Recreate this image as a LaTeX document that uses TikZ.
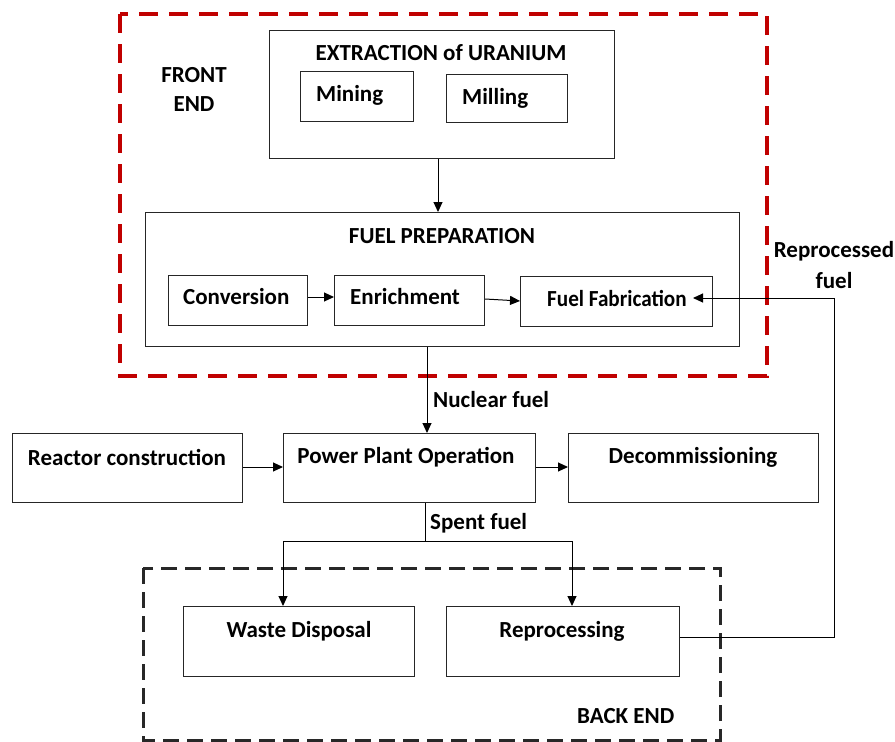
\documentclass[tikz,border=0pt]{standalone}
\usepackage{fontspec}
\setmainfont{Carlito}
\usetikzlibrary{arrows.meta}
\definecolor{frontred}{RGB}{192,0,0}
\definecolor{backgray}{RGB}{40,40,40}
\tikzset{
  box/.style={draw=black!85, line width=1.2pt, inner sep=0pt},
  txt/.style={font=\fontsize{23}{26}\selectfont\bfseries, inner sep=0pt},
  arr/.style={draw=black, line width=1pt, -{Triangle[length=10pt,width=9pt]}},
  ln/.style={draw=black, line width=1pt},
  redzone/.style={draw=frontred, line width=4pt, dash pattern=on 19pt off 11pt},
  backzone/.style={draw=backgray, line width=3pt, dash pattern=on 16pt off 8pt},
}
\newcommand{\bx}[5]{\node[box, anchor=north west, minimum width=#4pt, minimum height=#5pt] (#1) at (#2,#3) {};}
\begin{document}
\begin{tikzpicture}[x=1pt,y=-1pt]
\useasboundingbox (0,0) rectangle (895,742);
% zones
\path[redzone] (120,14) rectangle (767,376);
\path[backzone] (143,568) rectangle (720,740);
% boxes
\bx{extr}{269}{30}{345}{128}
\bx{mining}{300}{71}{113}{50}
\bx{milling}{446}{74}{121}{48}
\bx{fprep}{145}{212}{594}{134}
\bx{conv}{168}{275}{139}{50}
\bx{enr}{334}{275}{150}{50}
\bx{ffab}{520}{276}{192}{50}
\bx{reac}{12}{433}{230}{69}
\bx{ppo}{283}{433}{252}{69}
\bx{decom}{568}{433}{250}{69}
\bx{waste}{183}{606}{231}{70}
\bx{repro}{446}{606}{233}{70}
% texts
\node[txt] (tfront) at (194,75) {FRONT};
\node[txt] (tend) at (194,104) {END};
\node[txt] (textr) at (441,53) {EXTRACTION of URANIUM};
\node[txt, anchor=west] (tmin) at (316,95) {Mining};
\node[txt, anchor=west] (tmil) at (462,98) {Milling};
\node[txt] (tfprep) at (442,236) {FUEL PREPARATION};
\node[txt, anchor=west] (tconv) at (183,297) {Conversion};
\node[txt, anchor=west] (tenr) at (350,297) {Enrichment};
\node[txt, anchor=west, xscale=0.92] (tffab) at (547,298) {Fuel Fabrication};
\node[txt] (trep1) at (834,251) {Reprocessed};
\node[txt] (trep2) at (834,281) {fuel};
\node[txt, anchor=west] (tnuc) at (433,400) {Nuclear fuel};
\node[txt] (treac) at (127,457) {Reactor construction};
\node[txt] (tppo) at (406,457) {Power Plant Operation};
\node[txt] (tdecom) at (693,457) {Decommissioning};
\node[txt, anchor=west] (tspent) at (430,523) {Spent fuel};
\node[txt] (twaste) at (299,631) {Waste Disposal};
\node[txt] (trepro) at (562,631) {Reprocessing};
\node[txt, anchor=west] (tback) at (577,716) {BACK END};
% connectors
\coordinate (c1) at (438,158);
\draw[arr] (extr.south -| c1) -- (fprep.north -| c1);
\draw[arr] (conv.east |- 0,297) -- (enr.west |- 0,297);
\draw[arr] (enr.east |- 0,299) -- (ffab.west |- 0,301);
\coordinate (rtop) at (834,298);
\coordinate (rbot) at (834,637);
\coordinate (ftip) at (693,298);
\draw[ln] (repro.east |- rbot) -- (rbot) -- (rtop);
\draw[arr] (rtop) -- (ftip);
\coordinate (nx) at (427,0);
\draw[arr] (fprep.south -| nx) -- (ppo.north -| nx);
\draw[arr] (reac.east |- 0,467) -- (ppo.west |- 0,467);
\draw[arr] (ppo.east |- 0,467) -- (decom.west |- 0,467);
\coordinate (sx) at (425,541);
\coordinate (sl) at (283,541);
\coordinate (sr) at (572,541);
\draw[ln] (ppo.south -| sx) -- (sx);
\draw[ln] (sl) -- (sr);
\draw[arr] (sl) -- (waste.north -| sl);
\draw[arr] (sr) -- (repro.north -| sr);
\end{tikzpicture}
\end{document}
